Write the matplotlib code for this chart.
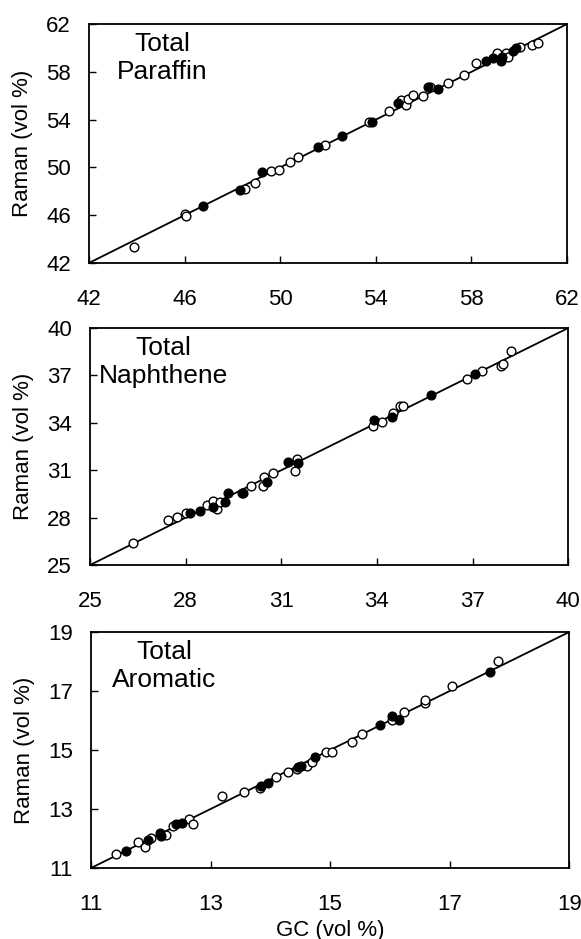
import numpy as np
import matplotlib
matplotlib.use("Agg")
import matplotlib.pyplot as plt

plt.rcParams['font.family'] = ['Liberation Sans', 'DejaVu Sans']

# Total paraffin: GC vs Raman (vol %)
par_open_gc = [43.88, 46.04, 46.06, 48.51, 48.93, 49.60, 49.97, 50.43, 50.74, 51.88,
               53.73, 54.57, 55.04, 55.26, 55.36, 55.57, 55.99, 56.27, 57.00, 57.69,
               58.19, 59.05, 59.44, 59.54, 60.03, 60.55, 60.79]
par_open_ram = [43.31, 46.09, 45.90, 48.18, 48.71, 49.74, 49.80, 50.44, 50.91, 51.89,
                53.84, 54.73, 55.65, 55.23, 55.70, 56.07, 55.98, 56.71, 57.04, 57.74,
                58.71, 59.55, 59.55, 59.21, 60.05, 60.25, 60.44]
par_fill_gc = [46.77, 48.33, 49.24, 51.60, 52.58, 53.86, 54.94, 56.20, 56.61, 58.63,
               58.91, 59.22, 59.26, 59.75, 59.88]
par_fill_ram = [46.74, 48.13, 49.58, 51.75, 52.67, 53.84, 55.37, 56.76, 56.54, 58.91,
                59.13, 58.94, 59.27, 59.77, 59.97]

# Total naphthene
nap_open_gc = [26.36, 27.46, 27.72, 28.01, 28.66, 28.85, 28.97, 29.08, 29.76, 30.04,
               30.42, 30.47, 30.73, 31.43, 31.48, 33.88, 34.17, 34.51, 34.72, 34.81,
               36.83, 37.28, 37.88, 37.96, 38.22]
nap_open_ram = [26.37, 27.85, 28.06, 28.27, 28.80, 29.08, 28.53, 29.01, 29.54, 30.03,
                30.01, 30.56, 30.85, 30.98, 31.70, 33.77, 34.02, 34.61, 35.04, 35.04,
                36.77, 37.25, 37.57, 37.74, 38.52]
nap_fill_gc = [28.14, 28.45, 28.87, 29.23, 29.32, 29.81, 30.54, 31.22, 31.51, 33.90,
               34.46, 35.71, 37.07]
nap_fill_ram = [28.32, 28.44, 28.70, 29.01, 29.58, 29.54, 30.28, 31.49, 31.44, 34.15,
                34.36, 35.73, 37.11]

# Total aromatic
aro_open_gc = [11.42, 11.78, 11.90, 12.01, 12.26, 12.37, 12.64, 12.71, 13.20, 13.56,
               13.83, 14.09, 14.30, 14.44, 14.62, 14.69, 14.93, 15.03, 15.37, 15.54,
               16.04, 16.24, 16.58, 16.59, 17.04, 17.81]
aro_open_ram = [11.48, 11.88, 11.71, 12.01, 12.13, 12.43, 12.66, 12.49, 13.45, 13.59,
                13.70, 14.10, 14.27, 14.35, 14.46, 14.61, 14.94, 14.94, 15.28, 15.53,
                16.01, 16.30, 16.58, 16.71, 17.16, 18.02]
aro_fill_gc = [11.59, 11.95, 12.15, 12.17, 12.43, 12.53, 13.85, 13.96, 14.47, 14.52,
               14.75, 15.84, 16.04, 16.15, 17.67]
aro_fill_ram = [11.56, 11.96, 12.18, 12.07, 12.49, 12.54, 13.78, 13.87, 14.44, 14.46,
                14.77, 15.85, 16.15, 16.01, 17.65]

panels = [
    ("Total\nParaffin", (42, 62), [42, 46, 50, 54, 58, 62],
     par_open_gc, par_open_ram, par_fill_gc, par_fill_ram),
    ("Total\nNaphthene", (25, 40), [25, 28, 31, 34, 37, 40],
     nap_open_gc, nap_open_ram, nap_fill_gc, nap_fill_ram),
    ("Total\nAromatic", (11, 19), [11, 13, 15, 17, 19],
     aro_open_gc, aro_open_ram, aro_fill_gc, aro_fill_ram),
]

fig = plt.figure(figsize=(5.81, 9.39), dpi=100)
boxes = [[0.153, 0.7199, 0.823, 0.2545],
         [0.155, 0.3983, 0.823, 0.2524],
         [0.1566, 0.0756, 0.823, 0.2513]]

for box, (name, lim, ticks, og, orr, fg, fr) in zip(boxes, panels):
    ax = fig.add_axes(box)
    ax.plot(lim, lim, color='black', lw=1.3, zorder=1)
    ax.plot(og, orr, 'o', ms=6.3, mfc='white', mec='black', mew=1.0, zorder=2)
    ax.plot(fg, fr, 'o', ms=6.3, mfc='black', mec='black', mew=1.0, zorder=3)
    ax.set_xlim(lim)
    ax.set_ylim(lim)
    ax.set_xticks(ticks)
    ax.set_yticks(ticks)
    ax.tick_params(direction='in', length=5, width=1, labelsize=16)
    ax.tick_params(axis='x', pad=19)
    ax.tick_params(axis='y', pad=13)
    for s in ax.spines.values():
        s.set_linewidth(1.3)
    ax.set_ylabel('Raman (vol %)', fontsize=16)
    ax.yaxis.set_label_coords(-0.117, 0.5)
    ax.text(0.153, 0.967, name, transform=ax.transAxes, ha='center', va='top',
            fontsize=19, linespacing=1.2)

ax.set_xlabel('GC (vol %)', fontsize=16, labelpad=3)

fig.savefig('out.png', dpi=100)
